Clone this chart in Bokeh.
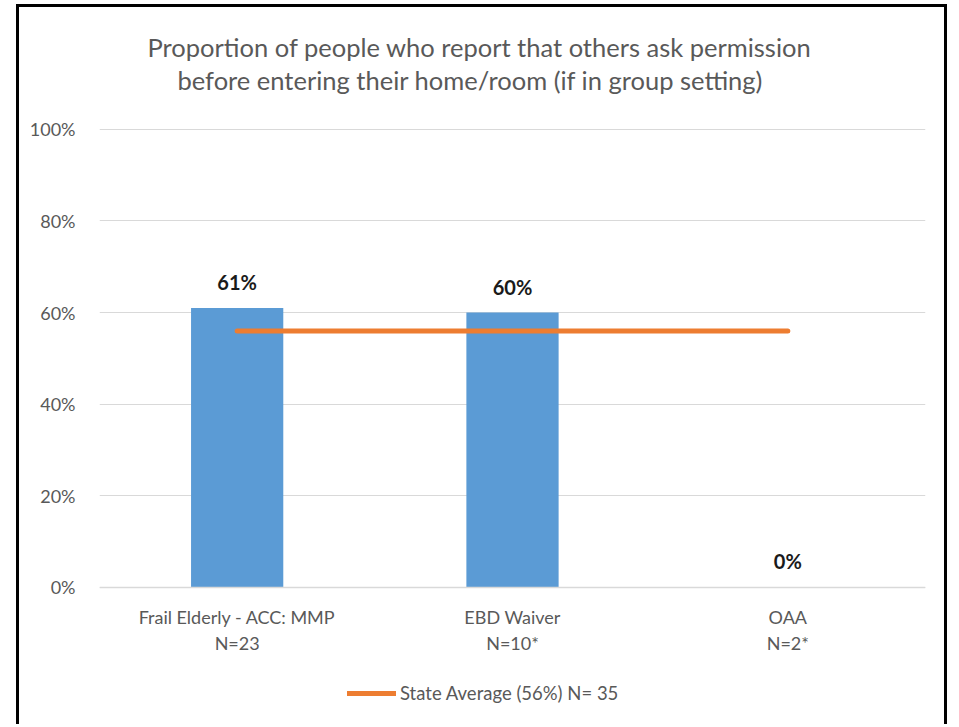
from bokeh.plotting import figure
from bokeh.models import (Range1d, FixedTicker, NumeralTickFormatter, ColumnDataSource,
                          LabelSet, Legend, LegendItem, Title)
from bokeh.embed import file_html
from bokeh.resources import INLINE
from bokeh.core.properties import value

# ---- data ----
categories = ["Frail Elderly - ACC: MMP", "EBD Waiver", "OAA"]
sample_sizes = ["N=23", "N=10*", "N=2*"]
values = [0.61, 0.60, 0.0]
value_labels = ["61%", "60%", "0%"]
state_average = 0.56
state_label = "State Average (56%) N= 35"
title_lines = ["Proportion of people who report that others ask permission",
               "before entering their home/room (if in group setting)"]
y_ticks = [0.0, 0.2, 0.4, 0.6, 0.8, 1.0]

FONT = "Lato"
GREY = "#595959"

xs = [i + 0.5 for i in range(len(categories))]
src = ColumnDataSource(dict(x=xs, top=values, lab=value_labels,
                            avg=[state_average] * len(categories)))

p = figure(width=931, height=720, output_backend="svg", toolbar_location=None,
           x_range=Range1d(0, len(categories)), y_range=Range1d(-0.284, 1.004),
           min_border_left=80, min_border_right=25, min_border_top=120, min_border_bottom=10)
p.styles = {"border-top": "3px solid black", "border-left": "3px solid black",
            "border-right": "3px solid black",
            "margin-left": "16px", "margin-top": "4px"}
p.outline_line_color = None
p.background_fill_color = "white"
p.border_fill_color = "white"

# title (two centred lines, added nearest-first)
p.title.text = ""
p.title.visible = False
p.add_layout(Title(text=title_lines[1], align="left", offset=78, standoff=66,
                   text_font=FONT, text_font_size="25.5px", text_font_style="normal",
                   text_color=GREY), "above")
p.add_layout(Title(text=title_lines[0], align="left", offset=48, standoff=-65,
                   text_font=FONT, text_font_size="25.5px", text_font_style="normal",
                   text_color=GREY), "above")

p.vbar(x="x", top="top", bottom=0, width=0.335, source=src,
       fill_color="#5B9BD5", line_color=None)
line_r = p.line(x="x", y="avg", source=src, line_color="#ED7D31", line_width=5, line_cap="round")

labels = LabelSet(x="x", y="top", text="lab", source=src, text_align="center",
                  text_baseline="middle", y_offset=26, text_font=value(FONT),
                  text_font_size="20px", text_font_style="bold", text_color="#1a1a1a")
p.add_layout(labels)

# axes
p.xaxis.fixed_location = 0
p.xaxis.ticker = FixedTicker(ticks=xs)
p.xaxis.major_label_overrides = {x: f"{c}\n{n}" for x, c, n in zip(xs, categories, sample_sizes)}
p.xaxis.major_tick_line_color = None
p.xaxis.minor_tick_line_color = None
p.xaxis.axis_line_color = "#D9D9D9"
p.xaxis.axis_line_width = 1.5
p.xaxis.major_label_text_font = FONT
p.xaxis.major_label_text_font_size = "18px"
p.xaxis.major_label_text_color = GREY
p.xaxis.major_label_text_line_height = 1.16
p.xaxis.major_label_standoff = 13

p.yaxis.ticker = FixedTicker(ticks=y_ticks)
p.yaxis.formatter = NumeralTickFormatter(format="0%")
p.yaxis.axis_line_color = None
p.yaxis.major_tick_line_color = None
p.yaxis.minor_tick_line_color = None
p.yaxis.major_label_text_font = FONT
p.yaxis.major_label_text_font_size = "18px"
p.yaxis.major_label_text_color = GREY
p.yaxis.major_label_standoff = 18

p.xgrid.grid_line_color = None
p.ygrid.ticker = FixedTicker(ticks=y_ticks)
p.ygrid.grid_line_color = "#D9D9D9"
p.ygrid.grid_line_width = 1

legend = Legend(items=[LegendItem(label=state_label, renderers=[line_r])],
                location=(248, 13), orientation="horizontal",
                border_line_color=None, background_fill_alpha=0, padding=0, margin=0,
                glyph_width=49, label_standoff=4,
                label_text_font=FONT, label_text_font_size="18.5px", label_text_color=GREY)
p.add_layout(legend, "center")

open("out.html", "w").write(file_html(p, INLINE))
